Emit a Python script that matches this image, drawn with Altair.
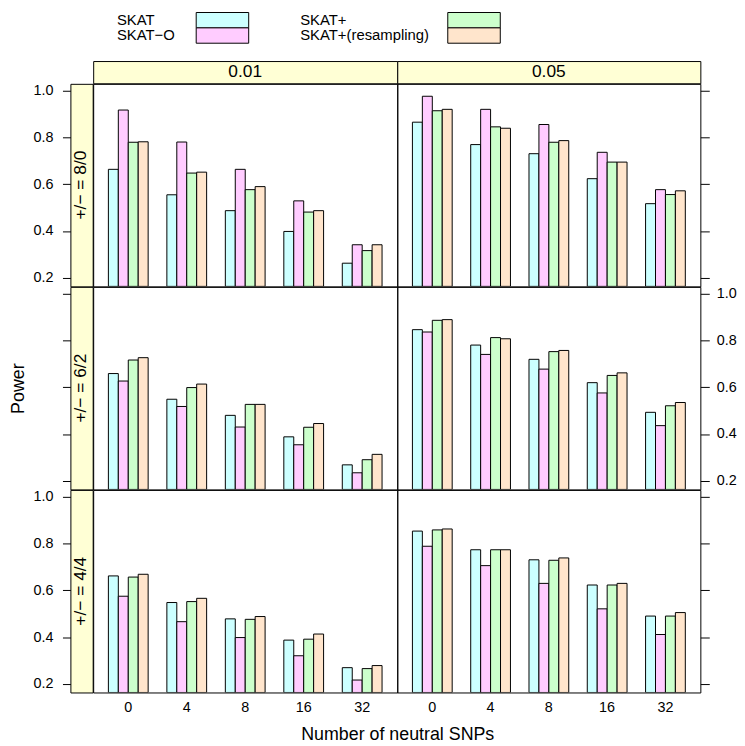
import altair as alt
import pandas as pd

FONT = "Liberation Sans"

alphas = ["0.01", "0.05"]
splits = ["+/− = 8/0", "+/− = 6/2", "+/− = 4/4"]
neutral = ["0", "4", "8", "16", "32"]
methods = ["SKAT", "SKAT−O", "SKAT+", "SKAT+(resampling)"]
fills = ["#CCFFFF", "#FFCCFF", "#CCFFCC", "#FFE5CC"]
y_ticks = [0.2, 0.4, 0.6, 0.8, 1.0]

# power by (split index, alpha), listed over the neutral SNP counts
power_skat = {
    (0, "0.01"): [0.664, 0.555, 0.487, 0.398, 0.262],
    (0, "0.05"): [0.866, 0.770, 0.731, 0.624, 0.517],
    (1, "0.01"): [0.659, 0.549, 0.480, 0.388, 0.268],
    (1, "0.05"): [0.847, 0.781, 0.720, 0.620, 0.493],
    (2, "0.01"): [0.662, 0.548, 0.478, 0.387, 0.269],
    (2, "0.05"): [0.854, 0.774, 0.731, 0.623, 0.490],
}
power_skat_o = {
    (0, "0.01"): [0.918, 0.781, 0.664, 0.529, 0.341],
    (0, "0.05"): [0.977, 0.921, 0.856, 0.737, 0.577],
    (1, "0.01"): [0.627, 0.518, 0.430, 0.354, 0.234],
    (1, "0.05"): [0.837, 0.741, 0.678, 0.576, 0.436],
    (2, "0.01"): [0.575, 0.466, 0.398, 0.320, 0.216],
    (2, "0.05"): [0.789, 0.706, 0.630, 0.521, 0.411],
}
power_skat_plus = {
    (0, "0.01"): [0.780, 0.648, 0.577, 0.481, 0.316],
    (0, "0.05"): [0.915, 0.846, 0.780, 0.695, 0.556],
    (1, "0.01"): [0.717, 0.599, 0.527, 0.429, 0.290],
    (1, "0.05"): [0.887, 0.813, 0.753, 0.651, 0.521],
    (2, "0.01"): [0.657, 0.552, 0.476, 0.391, 0.265],
    (2, "0.05"): [0.859, 0.774, 0.729, 0.623, 0.490],
}
power_skat_resamp = {
    (0, "0.01"): [0.782, 0.652, 0.590, 0.487, 0.341],
    (0, "0.05"): [0.921, 0.840, 0.787, 0.695, 0.572],
    (1, "0.01"): [0.727, 0.614, 0.527, 0.445, 0.313],
    (1, "0.05"): [0.890, 0.808, 0.758, 0.662, 0.535],
    (2, "0.01"): [0.669, 0.566, 0.488, 0.413, 0.278],
    (2, "0.05"): [0.863, 0.774, 0.739, 0.630, 0.505],
}
series = dict(zip(methods, [power_skat, power_skat_o, power_skat_plus, power_skat_resamp]))

# lattice-style limits: data range extended by 7% each side
all_vals = [v for s in series.values() for lst in s.values() for v in lst]
vmin, vmax = min(all_vals), max(all_vals)
ext = 0.07 * (vmax - vmin)
lo, hi = vmin - ext, vmax + ext

STRIP_FILL = "#FFFFD5"
W_STRIP = 22.5
W_PANEL = [307, 306]
H_PANEL = 204.5
H_TOP = 22.5
TICK_FS = 14.5
STRIP_FS = 17.5
TITLE_FS = 18
LEG_FS = 15


def yscale():
    return alt.Scale(domain=[lo, hi], zero=False, nice=False)


def panel(r, c):
    a = alphas[c]
    rows = []
    for m in methods:
        for ni, n in enumerate(neutral):
            rows.append({"neutral": n, "method": m, "power": series[m][(r, a)][ni]})
    df = pd.DataFrame(rows)

    if r == 2:
        xkw = dict(orient="bottom", ticks=False, domain=False, labelAngle=0,
                   labelFontSize=TICK_FS, labelPadding=8, labelColor="black", grid=False)
        if c == 0:
            xkw.update(title="Number of neutral SNPs", titleX=W_PANEL[0], titleAlign="center",
                       titleFontSize=TITLE_FS, titleFontWeight="normal", titlePadding=12,
                       titleColor="black")
        else:
            xkw.update(title=None)
        xaxis = alt.Axis(**xkw)
    else:
        xaxis = None

    if c == 1:
        ykw = dict(orient="right", values=y_ticks, format=".1f", tickSize=9, tickColor="black",
                   domain=False, grid=False, labelFontSize=TICK_FS, labelPadding=7,
                   labelColor="black", title=None)
        if r != 1:
            ykw.update(labelOpacity=0)
        yaxis = alt.Axis(**ykw)
    else:
        yaxis = None

    return alt.Chart(df).mark_bar(stroke="black", strokeWidth=1, clip=True).encode(
        x=alt.X("neutral:N", sort=neutral, axis=xaxis,
                scale=alt.Scale(paddingInner=0.32, paddingOuter=0.26)),
        xOffset=alt.XOffset("method:N", sort=methods,
                            scale=alt.Scale(domain=methods, paddingInner=0, paddingOuter=0)),
        y=alt.Y("power:Q", scale=yscale(), axis=yaxis),
        y2=alt.Y2(datum=lo),
        color=alt.Color("method:N", scale=alt.Scale(domain=methods, range=fills), legend=None),
    ).properties(width=W_PANEL[c], height=H_PANEL)


def row_strip(r):
    df = pd.DataFrame({"label": [splits[r]], "mid": [(lo + hi) / 2]})
    ykw = dict(orient="left", values=y_ticks, format=".1f", tickSize=8, tickColor="black",
               domain=False, grid=False, labelFontSize=TICK_FS, labelPadding=9.5,
               labelColor="black")
    if r == 1:
        ykw.update(labelOpacity=0, title="Power", titleFontSize=TITLE_FS,
                   titleFontWeight="normal", titlePadding=6, titleColor="black")
    else:
        ykw.update(title=None)
    return alt.Chart(df).mark_text(angle=270, fontSize=STRIP_FS, baseline="middle",
                                   align="center", color="black").encode(
        y=alt.Y("mid:Q", scale=yscale(), axis=alt.Axis(**ykw)),
        text="label:N",
    ).properties(width=W_STRIP, height=H_PANEL,
                 view=alt.ViewBackground(fill=STRIP_FILL, stroke="black"))


def top_strip(c):
    df = pd.DataFrame({"label": [alphas[c]]})
    return alt.Chart(df).mark_text(fontSize=STRIP_FS, baseline="middle", align="center",
                                   color="black").encode(
        text="label:N"
    ).properties(width=W_PANEL[c], height=H_TOP,
                 view=alt.ViewBackground(fill=STRIP_FILL, stroke="black"))


blank = alt.Chart(pd.DataFrame({"label": [""]})).mark_text().encode(
    text="label:N"
).properties(width=W_STRIP, height=H_TOP, view=alt.ViewBackground(stroke="transparent"))

cells = [blank, top_strip(0), top_strip(1)]
for r in range(3):
    cells += [row_strip(r), panel(r, 0), panel(r, 1)]

grid = alt.concat(*cells, columns=3, spacing=0, bounds="flush")

# legend (lattice key: two columns, text left of the fill box)
LEG_W = W_STRIP + W_PANEL[0] + W_PANEL[1]
LEG_H = 31
leg_text_x = [47, 232]
leg_box_x = [127, 381]
leg_box_w = 53
leg_rows = []
for i, m in enumerate(methods):
    col, row = i // 2, i % 2
    leg_rows.append({
        "method": m,
        "tx": leg_text_x[col],
        "bx": leg_box_x[col], "bx2": leg_box_x[col] + leg_box_w,
        "by": row * LEG_H / 2, "by2": (row + 1) * LEG_H / 2,
        "ty": (row + 0.5) * LEG_H / 2,
    })
leg_df = pd.DataFrame(leg_rows)
lx = alt.Scale(domain=[0, LEG_W])
ly = alt.Scale(domain=[LEG_H, 0])
leg_base = alt.Chart(leg_df)
leg_boxes = leg_base.mark_rect(stroke="black", strokeWidth=1).encode(
    x=alt.X("bx:Q", scale=lx, axis=None), x2="bx2:Q",
    y=alt.Y("by:Q", scale=ly, axis=None), y2="by2:Q",
    color=alt.Color("method:N", scale=alt.Scale(domain=methods, range=fills), legend=None),
)
leg_text = leg_base.mark_text(align="left", baseline="middle", fontSize=LEG_FS,
                              color="black").encode(
    x=alt.X("tx:Q", scale=lx, axis=None),
    y=alt.Y("ty:Q", scale=ly, axis=None),
    text="method:N",
)
legend = alt.layer(leg_boxes, leg_text).properties(
    width=LEG_W, height=LEG_H, view=alt.ViewBackground(stroke="transparent"))

chart = alt.vconcat(legend, grid, spacing=18, bounds="flush").properties(
    padding=0
).configure_view(stroke="black", strokeWidth=1).configure_axis(
    labelFont=FONT, titleFont=FONT
).configure_text(font=FONT)

chart.save("out.html", embed_options={"renderer": "svg", "actions": False})
